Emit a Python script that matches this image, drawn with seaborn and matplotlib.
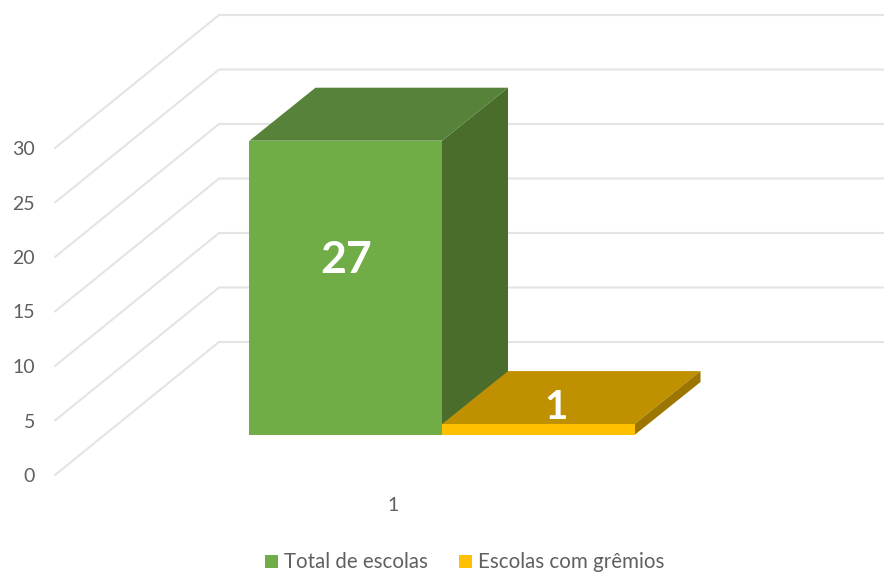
import matplotlib
matplotlib.use("Agg")
import matplotlib.pyplot as plt
import pandas as pd
import seaborn as sns
from matplotlib.patches import Polygon

# ---- data ----
categories = ["1", "1"]
series = ["Total de escolas", "Escolas com grêmios"]
values = [27, 1]
tick_values = [0, 5, 10, 15, 20, 25, 30]
front_colors = ["#70AD47", "#FFC000"]
top_colors = ["#578239", "#BF9000"]
side_colors = ["#4A6D2B", "#9C7600"]

W, H = 884, 572
PX_PER_UNIT = 10.9      # pixels for one unit of value
BASE_Y = 435            # pixel row of value 0 at the bar front
CENTER_X = 442          # pixel column of the category centre
BAR_PX = 192.5          # pixel width of a bar
DEPTH_X, DEPTH_Y = 66, 53        # bar depth in pixels
WALL_X0, WALL_X1 = 55, 219       # side wall, pixels
WALL_Y0, WALL_Y1 = 475, 342      # value 0 on the side wall front/back
GRID = "#E4E4E4"
TEXT = "#606060"

sns.set_theme(style="white")
plt.rcParams["font.family"] = ["Lato", "DejaVu Sans"]

df = pd.DataFrame({"cat": categories, "serie": series, "valor": values})

fig = plt.figure(figsize=(W / 100, H / 100), dpi=100, facecolor="white")

# main axes: covers the figure, holds the floor-level bars
ax = fig.add_axes([0, 0, 1, 1], facecolor="none")
u = 0.8 / 2 / BAR_PX    # x data units per pixel (two bars share width 0.8)
sns.barplot(data=df, x="cat", y="valor", hue="serie", hue_order=series,
            palette=front_colors, width=0.8, gap=0, saturation=1,
            linewidth=0, ax=ax, zorder=3)
ax.set_xlim(-CENTER_X * u, (W - CENTER_X) * u)
ax.set_ylim(-(H - BASE_Y) / PX_PER_UNIT, BASE_Y / PX_PER_UNIT)
ax.set_axis_off()

dx, dy = DEPTH_X * u, DEPTH_Y / PX_PER_UNIT
bars = [p for c in ax.containers for p in c]
# back faces first: the tall bar's side sits under the low bar's top
for i, b in enumerate(bars):
    x0, x1 = b.get_x(), b.get_x() + b.get_width()
    h = b.get_height()
    ax.add_patch(Polygon([(x0, h), (x1, h), (x1 + dx, h + dy), (x0 + dx, h + dy)],
                         closed=True, fc=top_colors[i], ec="none", zorder=2.5))
    ax.add_patch(Polygon([(x1, 0), (x1, h), (x1 + dx, h + dy), (x1 + dx, dy)],
                         closed=True, fc=side_colors[i], ec="none", zorder=2.3 + i * 0.4))

# data labels
ax.text(bars[0].get_x() + bars[0].get_width() / 2, values[0] / 2 + 2.55, str(values[0]),
        color="white", fontsize=32, fontweight="bold", ha="center", va="center", zorder=5)
ax.text(bars[1].get_x() + bars[1].get_width() / 2 + 0.5 * dx - 15 * u, values[1] + 0.5 * dy - 0.9, str(values[1]),
        color="white", fontsize=29, fontweight="bold", ha="center", va="center", zorder=5)

# wall axes: value 0 sits on the bottom edge, at the front of the side wall
wall = fig.add_axes([WALL_X0 / W, (H - WALL_Y0) / H, (W - WALL_X0) / W, WALL_Y0 / H],
                    facecolor="none", zorder=-1)
wall.set_ylim(0, WALL_Y0 / PX_PER_UNIT)
wall.set_xlim(0, W - WALL_X0)
wy = (WALL_Y0 - WALL_Y1) / PX_PER_UNIT
wx = WALL_X1 - WALL_X0
for v in tick_values:
    wall.plot([0, wx, W - WALL_X0], [v, v + wy, v + wy], color=GRID, lw=1.5,
              solid_joinstyle="miter", clip_on=False, zorder=1)
wall.set_yticks(tick_values)
wall.set_yticklabels([str(v) for v in tick_values])
wall.set_xticks([393 - WALL_X0])
wall.set_xticklabels([categories[0]])
wall.tick_params(axis="both", length=0, labelsize=14, labelcolor=TEXT)
wall.tick_params(axis="y", pad=14.5)
wall.tick_params(axis="x", pad=15.5)
sns.despine(ax=wall, left=True, bottom=True)
wall.patch.set_alpha(0)

# legend
handles, labels = ax.get_legend_handles_labels()
leg = ax.legend(handles, labels, loc="center", bbox_to_anchor=(464.5 / W, 1 - 562.5 / H),
                bbox_transform=fig.transFigure, ncols=2, frameon=False, fontsize=14.8,
                handlelength=0.62, handleheight=0.62, handletextpad=0.29,
                columnspacing=1.54, labelcolor=TEXT, borderpad=0, borderaxespad=0)

fig.savefig("out.png", dpi=100, facecolor="white")
